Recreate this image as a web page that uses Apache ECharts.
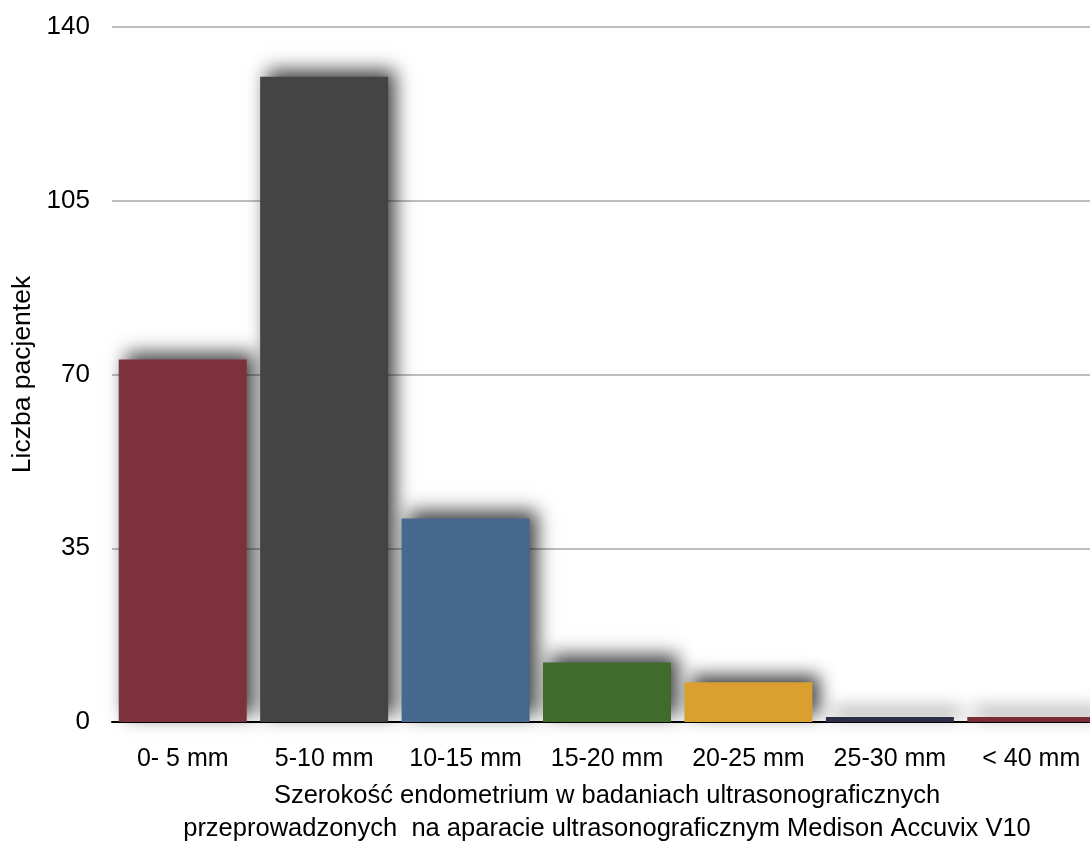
<!DOCTYPE html>
<html>
<head>
<meta charset="utf-8">
<script src="https://cdn.jsdelivr.net/npm/echarts@6/dist/echarts.min.js"></script>
<style>
html,body{margin:0;padding:0;background:#fff;}
#chart{width:1090px;height:841px;}
</style>
</head>
<body>
<div id="chart"></div>
<script>
// Endometrium width ranges and patient counts
const categories = ['0- 5 mm', '5-10 mm', '10-15 mm', '15-20 mm', '20-25 mm', '25-30 mm', '< 40 mm'];
const patientCounts = [73, 130, 41, 12, 8, 1, 1];
const barColors = ['#7e323d', '#444444', '#47688f', '#3f6c2c', '#d9a02f', '#2b2e44', '#7a2b36'];
const yTicks = [0, 35, 70, 105, 140];

const FONT = '"Liberation Sans", Arial, sans-serif';

const chart = echarts.init(document.getElementById('chart'));
chart.setOption({
  backgroundColor: '#ffffff',
  animation: false,
  grid: { left: 112, right: -12, top: 27, bottom: 119, containLabel: false, outerBoundsMode: 'none' },
  xAxis: {
    type: 'category',
    data: categories,
    axisLine: { show: true, lineStyle: { color: '#000000', width: 2 } },
    axisTick: { show: false },
    axisLabel: { color: '#000', fontFamily: FONT, fontSize: 25, margin: 25, interval: 0 },
    name: 'Szerokość endometrium w badaniach ultrasonograficznych\nprzeprowadzonych  na aparacie ultrasonograficznym Medison Accuvix V10',
    nameLocation: 'middle',
    nameGap: 57,
    nameTextStyle: { color: '#000', fontFamily: FONT, fontSize: 25.5, lineHeight: 33, align: 'center', verticalAlign: 'top' }
  },
  yAxis: {
    type: 'value',
    min: yTicks[0],
    max: yTicks[yTicks.length - 1],
    interval: 35,
    axisLine: { show: false },
    axisTick: { show: false },
    splitLine: { show: true, lineStyle: { color: '#bdbdbd', width: 2 } },
    axisLabel: { color: '#000', fontFamily: FONT, fontSize: 26, margin: 22 },
    name: 'Liczba pacjentek',
    nameLocation: 'middle',
    nameGap: 75,
    nameRotate: 90,
    nameTextStyle: { color: '#000', fontFamily: FONT, fontSize: 26.5 }
  },
  series: [{
    type: 'bar',
    data: patientCounts.map((v, i) => ({
      value: v,
      itemStyle: {
        color: barColors[i],
        shadowColor: 'rgba(0,0,0,0.75)',
        shadowBlur: 18,
        shadowOffsetX: 7,
        shadowOffsetY: -7
      }
    })),
    barCategoryGap: '9.5%',
    z: 2
  }]
});
</script>
</body>
</html>
